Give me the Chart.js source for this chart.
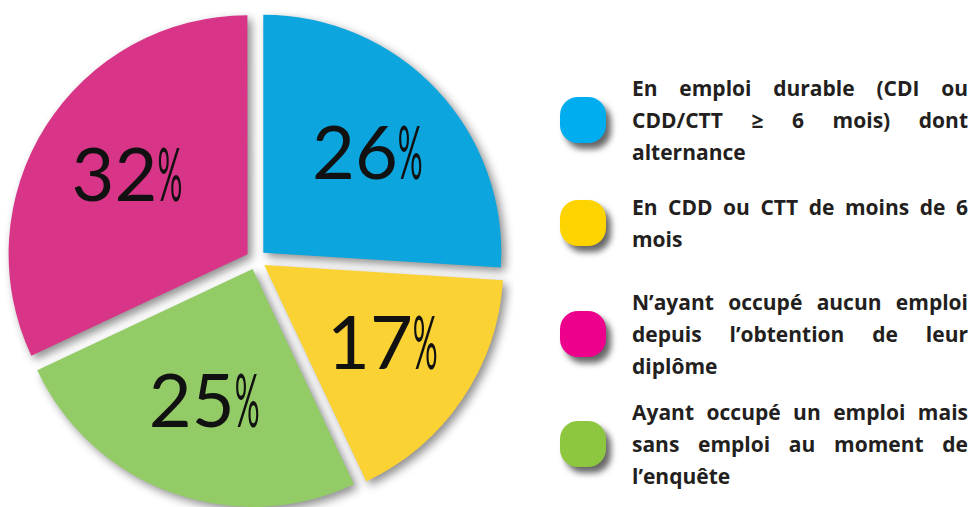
<!DOCTYPE html>
<html>
<head>
<meta charset="utf-8">
<script src="https://cdn.jsdelivr.net/npm/chart.js@4"></script>
<style>
  html, body { margin: 0; padding: 0; background: #fff; }
  body { width: 971px; height: 507px; position: relative; overflow: hidden; font-family: "Open Sans", sans-serif; }
  #pie { position: absolute; left: 0; top: 0; }
  .row { position: absolute; left: 560px; width: 408px; display: flex; align-items: center; transform: translateY(-50%); }
  .sw { width: 46px; height: 46px; border-radius: 18px; flex: none; box-shadow: 5px 6px 6px rgba(0,0,0,0.6); }
  .txt { margin-left: 26px; width: 336px; font-weight: 700; font-size: 21px; line-height: 32px; color: #231f20; text-align: justify; }
</style>
</head>
<body>
<canvas id="pie" width="514" height="507"></canvas>
<div id="legend"></div>
<script>
const categories = [
    'En emploi durable (CDI ou CDD/CTT ≥ 6 mois) dont alternance',
    'En CDD ou CTT de moins de 6 mois',
    'N’ayant occupé aucun emploi depuis l’obtention de leur diplôme',
    'Ayant occupé un emploi mais sans emploi au moment de l’enquête'
];
const shares = [26, 17, 32, 25];
const sliceColors = ['#0ca5dd', '#fbd234', '#d93588', '#93cb66'];
const swatchColors = ['#00aeef', '#fdd400', '#ec008c', '#8dc63f'];
const rowCenters = [120, 223, 334, 444];
// slices go clockwise from the top: blue, yellow, green, pink
const pieOrder = [0, 1, 3, 2];

// legend on the right
const legend = document.getElementById('legend');
categories.forEach((c, i) => {
    const row = document.createElement('div');
    row.className = 'row';
    row.style.top = rowCenters[i] + 'px';
    row.innerHTML = '<div class="sw" style="background:' + swatchColors[i] + '"></div><div class="txt"></div>';
    const t = row.querySelector('.txt');
    t.textContent = c;
    t.style.textAlignLast = 'left';
    legend.appendChild(row);
});

const SHIFT = 10; // visible explode distance, chart.js moves arcs by offset / 4

const shadowPlugin = {
    id: 'shadow',
    beforeDatasetsDraw(chart) {
        const c = chart.ctx;
        c.save();
        c.shadowColor = 'rgba(0, 0, 0, 0.45)';
        c.shadowBlur = 10;
        c.shadowOffsetX = 4;
        c.shadowOffsetY = 4;
    },
    afterDatasetsDraw(chart) {
        chart.ctx.restore();
    }
};

const labelPlugin = {
    id: 'pctLabels',
    afterDatasetsDraw(chart) {
        const c = chart.ctx;
        const meta = chart.getDatasetMeta(0);
        meta.data.forEach((arc, i) => {
            const p = arc.getProps(['x', 'y', 'startAngle', 'endAngle', 'outerRadius'], true);
            const mid = (p.startAngle + p.endAngle) / 2;
            const r = p.outerRadius * 0.6 + SHIFT;
            const px = p.x + Math.cos(mid) * r;
            const py = p.y + Math.sin(mid) * r;
            const num = String(chart.data.datasets[0].data[i]);
            c.save();
            c.fillStyle = '#111';
            c.font = '400 74px Lato, "Open Sans", sans-serif';
            c.textBaseline = 'middle';
            c.textAlign = 'left';
            const w1 = c.measureText(num).width;
            const w2 = c.measureText('%').width * 0.42;
            const sx = px - (w1 + w2) / 2;
            c.fillText(num, sx, py);
            c.translate(sx + w1, py);
            c.scale(0.42, 1);
            c.fillText('%', 0, 0);
            c.restore();
        });
    }
};

new Chart(document.getElementById('pie'), {
    type: 'pie',
    data: {
        labels: pieOrder.map(i => categories[i]),
        datasets: [{
            data: pieOrder.map(i => shares[i]),
            backgroundColor: pieOrder.map(i => sliceColors[i]),
            borderWidth: 0,
            offset: SHIFT * 4,
            hoverOffset: 0,
            radius: 238
        }]
    },
    options: {
        responsive: false,
        animation: false,
        layout: { padding: { top: 12, left: 0, right: 2 } },
        plugins: {
            legend: { display: false },
            tooltip: { enabled: false }
        }
    },
    plugins: [shadowPlugin, labelPlugin]
});
</script>
</body>
</html>
